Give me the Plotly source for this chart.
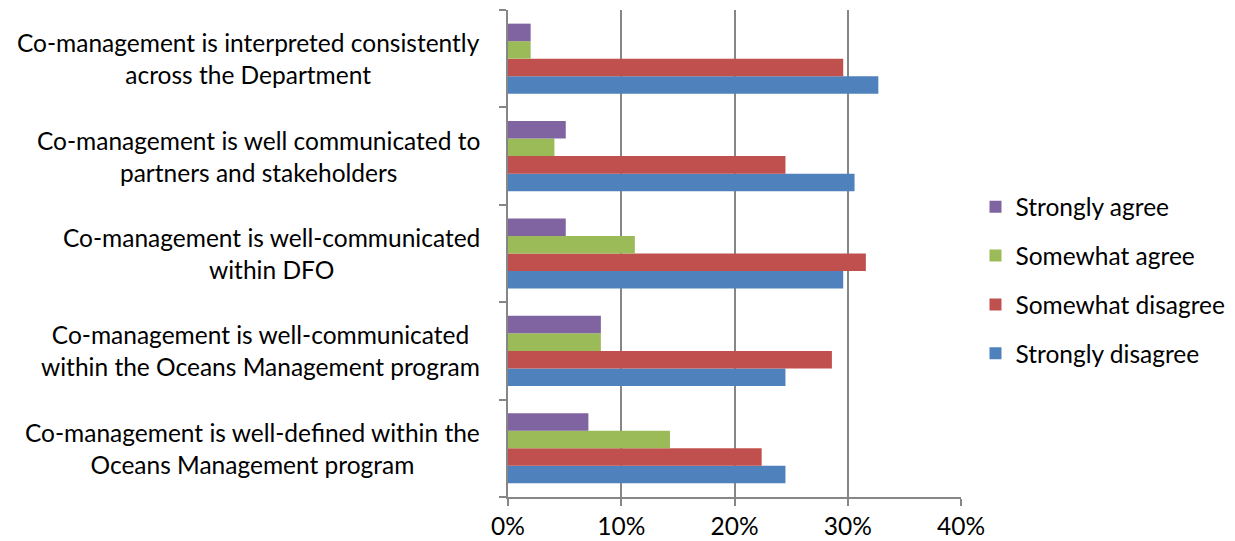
import plotly.graph_objects as go

# Survey statements, listed bottom to top as they appear on the axis
statements = [
    "Co-management is well-defined within the<br>Oceans Management program",
    "Co-management is well-communicated<br>within the Oceans Management program",
    "Co-management is well-communicated<br>within DFO",
    "Co-management is well communicated to<br>partners and stakeholders",
    "Co-management is interpreted consistently<br>across the Department",
]
cat_ids = ["s1", "s2", "s3", "s4", "s5"]

# Share of respondents per response (fractions), same order as statements
strongly_disagree = [0.245, 0.245, 0.296, 0.306, 0.327]
somewhat_disagree = [0.224, 0.286, 0.316, 0.245, 0.296]
somewhat_agree = [0.143, 0.082, 0.112, 0.041, 0.020]
strongly_agree = [0.071, 0.082, 0.051, 0.051, 0.020]

# (name, values, colour, legend rank)
series = [
    ("Strongly disagree", strongly_disagree, "#4F81BD", 4),
    ("Somewhat disagree", somewhat_disagree, "#C0504D", 3),
    ("Somewhat agree", somewhat_agree, "#9BBB59", 2),
    ("Strongly agree", strongly_agree, "#8064A2", 1),
]

FONT = "Lato"
FSIZE = 24.5

fig = go.Figure()
for name, vals, color, rank in series:
    fig.add_trace(go.Bar(
        y=cat_ids, x=vals, name=name, orientation="h",
        marker=dict(color=color, line=dict(width=0)),
        legendgroup=name, legendrank=rank,
    ))

for cid, label in zip(cat_ids, statements):
    fig.add_annotation(
        x=-0.058, xref="paper", xanchor="right",
        y=cid, yref="y", yanchor="middle",
        text=label, showarrow=False, align="center",
        font=dict(family=FONT, size=FSIZE, color="#000000"),
    )

fig.update_layout(
    width=1235, height=541,
    margin=dict(l=508, r=274, t=10, b=44, autoexpand=False),
    barmode="group", bargap=0.28, bargroupgap=0,
    plot_bgcolor="white", paper_bgcolor="white",
    font=dict(family=FONT, size=FSIZE, color="#000000"),
    legend=dict(
        x=1.032, y=0.445, xanchor="left", yanchor="middle",
        traceorder="grouped", tracegroupgap=14,
        font=dict(family=FONT, size=FSIZE, color="#000000"),
        itemwidth=30,
    ),
    showlegend=True,
)

fig.update_xaxes(
    range=[0, 0.4], dtick=0.1, tickformat=".0%",
    showgrid=True, gridcolor="#868686", gridwidth=2,
    showline=True, linecolor="#868686", linewidth=2,
    ticks="outside", ticklen=7, tickcolor="#868686", tickwidth=2,
    zeroline=False,
    tickfont=dict(family=FONT, size=FSIZE, color="#000000"),
)
fig.update_yaxes(
    type="category", categoryorder="array", categoryarray=cat_ids,
    showticklabels=False, tickson="boundaries",
    ticks="outside", ticklen=7, tickcolor="#868686", tickwidth=2,
    showline=True, linecolor="#868686", linewidth=2,
    showgrid=False, zeroline=False,
)

fig.write_html("out.html")
